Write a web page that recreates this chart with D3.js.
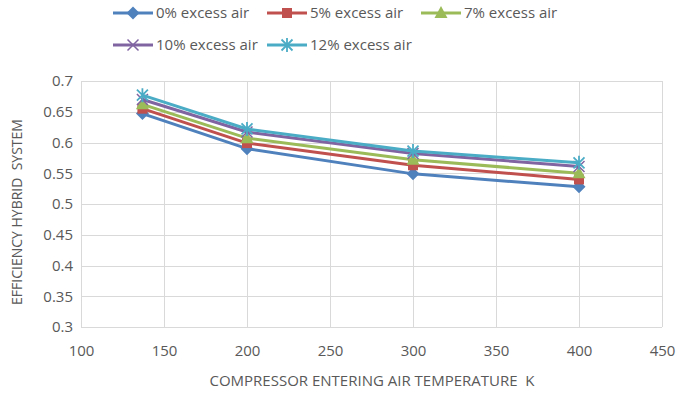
<!DOCTYPE html>
<html>
<head>
<meta charset="utf-8">
<script src="https://cdn.jsdelivr.net/npm/d3@7"></script>
<style>
body { margin: 0; background: #fff; }
text { font-family: "Open Sans", "Liberation Sans", sans-serif; fill: #595959; white-space: pre; }
</style>
</head>
<body>
<script>
var temps = [137, 200, 300, 400];
var seriesNames = ["0% excess air", "5% excess air", "7% excess air", "10% excess air", "12% excess air"];
var air0 = [0.647, 0.590, 0.549, 0.528];
var air5 = [0.655, 0.599, 0.563, 0.540];
var air7 = [0.662, 0.607, 0.572, 0.550];
var air10 = [0.670, 0.617, 0.582, 0.561];
var air12 = [0.677, 0.622, 0.586, 0.567];
var xTicks = [100, 150, 200, 250, 300, 350, 400, 450];
var yTicks = [0.3, 0.35, 0.4, 0.45, 0.5, 0.55, 0.6, 0.65, 0.7];

var colors = ["#4F81BD", "#C0504D", "#9BBB59", "#8064A2", "#4BACC6"];
var shapes = ["diamond", "square", "triangle", "x", "star"];
var allSeries = [air0, air5, air7, air10, air12];

var W = 683, H = 393;
var pLeft = 81, pRight = 662, pTop = 81, pBottom = 327;

var svg = d3.select("body").append("svg")
  .attr("width", W)
  .attr("height", H);

var x = d3.scaleLinear().domain([100, 450]).range([pLeft, pRight]);
var y = d3.scaleLinear().domain([0.3, 0.7]).range([pBottom, pTop]);

// gridlines
svg.append("g").selectAll("line").data(yTicks).enter().append("line")
  .attr("x1", pLeft).attr("x2", pRight)
  .attr("y1", function(d){ return Math.round(y(d)) + 0.5; })
  .attr("y2", function(d){ return Math.round(y(d)) + 0.5; })
  .attr("stroke", "#D9D9D9").attr("stroke-width", 1);
svg.append("g").selectAll("line").data(xTicks).enter().append("line")
  .attr("y1", pTop).attr("y2", pBottom)
  .attr("x1", function(d){ return Math.round(x(d)) + 0.5; })
  .attr("x2", function(d){ return Math.round(x(d)) + 0.5; })
  .attr("stroke", "#D9D9D9").attr("stroke-width", 1);

// axes (labels only)
var xAxis = svg.append("g").attr("transform", "translate(0," + pBottom + ")")
  .call(d3.axisBottom(x).tickValues(xTicks).tickSize(0).tickPadding(18));
xAxis.select(".domain").remove();
xAxis.selectAll("text").style("font-size", "15px").attr("fill", "#595959");

var yAxis = svg.append("g").attr("transform", "translate(" + pLeft + ",0)")
  .call(d3.axisLeft(y).tickValues(yTicks).tickSize(0).tickPadding(8)
    .tickFormat(function(d){ return String(+d.toFixed(2)); }));
yAxis.select(".domain").remove();
yAxis.selectAll("text").style("font-size", "15px").attr("fill", "#595959");

// axis titles
svg.append("text")
  .attr("x", 372).attr("y", 386)
  .attr("text-anchor", "middle")
  .style("font-size", "15px")
  .text("COMPRESSOR ENTERING AIR TEMPERATURE  K");
svg.append("text")
  .attr("transform", "translate(22," + 212 + ") rotate(-90)")
  .attr("text-anchor", "middle")
  .style("font-size", "14px")
  .text("EFFICIENCY HYBRID  SYSTEM");

function drawMarker(g, shape, color, cx, cy) {
  if (shape === "diamond") {
    g.append("path").attr("d", "M" + cx + "," + (cy - 6.5) + "L" + (cx + 6.5) + "," + cy + "L" + cx + "," + (cy + 6.5) + "L" + (cx - 6.5) + "," + cy + "Z")
      .attr("fill", color);
  } else if (shape === "square") {
    g.append("rect").attr("x", cx - 5).attr("y", cy - 5).attr("width", 10).attr("height", 10).attr("fill", color);
  } else if (shape === "triangle") {
    g.append("path").attr("d", "M" + cx + "," + (cy - 7) + "L" + (cx + 6.5) + "," + (cy + 5) + "L" + (cx - 6.5) + "," + (cy + 5) + "Z")
      .attr("fill", color);
  } else if (shape === "x") {
    g.append("path").attr("d", "M" + (cx - 5.5) + "," + (cy - 5.5) + "L" + (cx + 5.5) + "," + (cy + 5.5) + "M" + (cx - 5.5) + "," + (cy + 5.5) + "L" + (cx + 5.5) + "," + (cy - 5.5))
      .attr("stroke", color).attr("stroke-width", 1.5).attr("fill", "none");
  } else {
    g.append("path").attr("d", "M" + (cx - 5.5) + "," + (cy - 5.5) + "L" + (cx + 5.5) + "," + (cy + 5.5) + "M" + (cx - 5.5) + "," + (cy + 5.5) + "L" + (cx + 5.5) + "," + (cy - 5.5) + "M" + cx + "," + (cy - 7) + "L" + cx + "," + (cy + 7))
      .attr("stroke", color).attr("stroke-width", 1.8).attr("fill", "none");
  }
}

var line = d3.line()
  .x(function(d, i){ return x(temps[i]); })
  .y(function(d){ return y(d); });

for (var s = 0; s < allSeries.length; s++) {
  var g = svg.append("g");
  g.append("path").datum(allSeries[s])
    .attr("d", line)
    .attr("fill", "none")
    .attr("stroke", colors[s])
    .attr("stroke-width", 3)
    .attr("stroke-linejoin", "round");
  for (var i = 0; i < temps.length; i++) {
    drawMarker(g, shapes[s], colors[s], x(temps[i]), y(allSeries[s][i]));
  }
}

// legend
var legPos = [[113, 13], [267, 13], [421, 13], [113, 45], [267, 45]];
for (var k = 0; k < seriesNames.length; k++) {
  var lg = svg.append("g");
  var lx = legPos[k][0], ly = legPos[k][1];
  lg.append("line").attr("x1", lx).attr("x2", lx + 40).attr("y1", ly).attr("y2", ly)
    .attr("stroke", colors[k]).attr("stroke-width", 3);
  drawMarker(lg, shapes[k], colors[k], lx + 20, ly);
  lg.append("text").attr("x", lx + 43).attr("y", ly + 5)
    .style("font-size", "15px")
    .text(seriesNames[k]);
}
</script>
</body>
</html>
